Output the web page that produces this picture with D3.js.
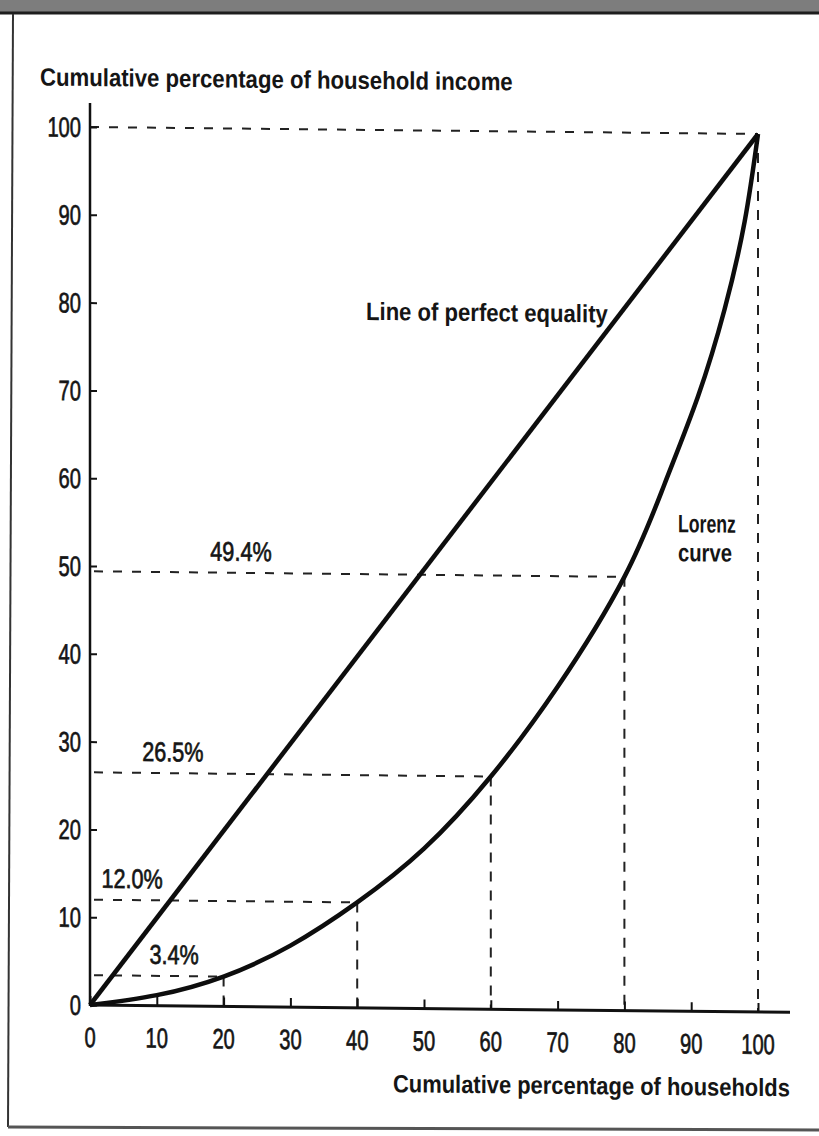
<!DOCTYPE html>
<html>
<head>
<meta charset="utf-8">
<script src="https://cdn.jsdelivr.net/npm/d3@7"></script>
<style>
body { margin: 0; background: #fff; }
text { font-family: "Liberation Sans", Arial, sans-serif; fill: #151515; }
.bold { font-weight: bold; }
.thin { stroke: #151515; stroke-width: 0.7px; }
</style>
</head>
<body>
<svg width="819" height="1136"></svg>
<script>
// values
var xTicks = [0, 10, 20, 30, 40, 50, 60, 70, 80, 90, 100];
var yTicks = [0, 10, 20, 30, 40, 50, 60, 70, 80, 90, 100];

// quintile points marked on the Lorenz curve
var quintiles = [20, 40, 60, 80, 100];
var quintileIncome = [3.4, 12.0, 26.5, 49.4, 100];
var quintileLabels = ["3.4%", "12.0%", "26.5%", "49.4%", ""];

// Lorenz curve
var lorenzX = [0, 10, 20, 30, 40, 50, 60, 70, 80, 86, 91, 95, 98, 100];
var lorenzY = [0, 1.2, 3.4, 7.0, 12.0, 18.2, 26.5, 36.8, 49.4, 60, 70, 80, 90, 100];

var equalityX = [0, 100];
var equalityY = [0, 100];

var svg = d3.select("svg");

// scan frame
svg.append("rect").attr("x", 0).attr("y", 0).attr("width", 819).attr("height", 12).attr("fill", "#7d7d7d");
svg.append("line").attr("x1", 0).attr("x2", 819).attr("y1", 13).attr("y2", 13)
   .attr("stroke", "#1e1e1e").attr("stroke-width", 3);
svg.append("line").attr("x1", 13).attr("x2", 8).attr("y1", 14).attr("y2", 1127)
   .attr("stroke", "#333").attr("stroke-width", 2);
svg.append("line").attr("x1", 8).attr("x2", 819).attr("y1", 1127).attr("y2", 1130)
   .attr("stroke", "#555").attr("stroke-width", 3);

var x = d3.scaleLinear().domain([0, 100]).range([90, 758]),
    y = d3.scaleLinear().domain([0, 100]).range([1005, 127]);

// the scan is slightly tilted: horizontals drop to the right
var g = svg.append("g").attr("transform", "translate(90,0) skewY(0.6) translate(-90,0)");

// narrow type: draw at (0,0) then squeeze horizontally
function squeeze(sel, sx) {
  sel.each(function() {
    var t = d3.select(this), px = +t.attr("x"), py = +t.attr("y");
    t.attr("x", 0).attr("y", 0)
     .attr("transform", "translate(" + px + "," + py + ") scale(" + sx + ",1)");
  });
}
function fitText(t, w) {
  var len = t.node().getComputedTextLength();
  squeeze(t, w / len);
}

var dash = "9,10";

// dashed guides
g.append("line").attr("x1", x(0)).attr("x2", x(100)).attr("y1", y(100)).attr("y2", y(100))
  .attr("stroke", "#222").attr("stroke-width", 2).attr("stroke-dasharray", dash);

g.selectAll(".hguide")
  .data(quintiles.slice(0, 4))
  .enter().append("line")
    .attr("class", "hguide")
    .attr("x1", x(0) + 4)
    .attr("x2", function(d) { return x(d); })
    .attr("y1", function(d, i) { return y(quintileIncome[i]); })
    .attr("y2", function(d, i) { return y(quintileIncome[i]); })
    .attr("stroke", "#222").attr("stroke-width", 2).attr("stroke-dasharray", dash);

g.selectAll(".vguide")
  .data(quintiles)
  .enter().append("line")
    .attr("class", "vguide")
    .attr("x1", function(d) { return x(d); })
    .attr("x2", function(d) { return x(d); })
    .attr("y1", function(d, i) { return y(quintileIncome[i]); })
    .attr("y2", y(0))
    .attr("stroke", "#222").attr("stroke-width", 2).attr("stroke-dasharray", "10,9");

// axes
var yAxis = d3.axisRight(y).tickValues(yTicks).tickSize(7).tickFormat("");
var ya = g.append("g").attr("transform", "translate(" + x(0) + ",0)").call(yAxis);
ya.select(".domain").remove();
ya.selectAll("line").attr("stroke", "#111").attr("stroke-width", 2);
g.append("line").attr("x1", x(0)).attr("x2", x(0)).attr("y1", 103).attr("y2", y(0) + 1)
  .attr("stroke", "#111").attr("stroke-width", 2.5);

var xAxis = d3.axisTop(x).tickValues(xTicks).tickSize(9).tickFormat("");
var xa = g.append("g").attr("transform", "translate(0," + y(0) + ")").call(xAxis);
xa.select(".domain").remove();
xa.selectAll("line").attr("stroke", "#111").attr("stroke-width", 2);
g.append("line").attr("x1", x(0)).attr("x2", 790).attr("y1", y(0)).attr("y2", y(0))
  .attr("stroke", "#111").attr("stroke-width", 3);

var ylab = g.selectAll(".ylab")
  .data(yTicks)
  .enter().append("text")
    .attr("class", "ylab thin")
    .attr("x", x(0) - 9)
    .attr("y", function(d) { return y(d) + 10; })
    .attr("text-anchor", "end")
    .attr("font-size", 28)
    .text(function(d) { return d; });
squeeze(ylab, 0.72);

var xlab = g.selectAll(".xlab")
  .data(xTicks)
  .enter().append("text")
    .attr("class", "xlab thin")
    .attr("x", function(d) { return x(d); })
    .attr("y", y(0) + 42)
    .attr("text-anchor", "middle")
    .attr("font-size", 28)
    .text(function(d) { return d; });
squeeze(xlab, 0.72);

// curves
var line = d3.line()
    .x(function(d) { return x(d[0]); })
    .y(function(d) { return y(d[1]); });

g.append("path")
  .attr("d", line(d3.zip(equalityX, equalityY)))
  .attr("fill", "none").attr("stroke", "#0d0d0d").attr("stroke-width", 4.5);

g.append("path")
  .attr("d", line.curve(d3.curveNatural)(d3.zip(lorenzX, lorenzY)))
  .attr("fill", "none").attr("stroke", "#0d0d0d").attr("stroke-width", 4.5);

// percentage annotations
var labelAt = [12.6, 6.3, 12.4, 22.6];
var pct = g.selectAll(".pct")
  .data(quintileLabels.slice(0, 4))
  .enter().append("text")
    .attr("class", "pct thin")
    .attr("x", function(d, i) { return x(labelAt[i]); })
    .attr("y", function(d, i) { return y(quintileIncome[i]) - 12; })
    .attr("text-anchor", "middle")
    .attr("font-size", 27)
    .text(function(d) { return d; });
squeeze(pct, 0.8);

// titles and curve names
function boldText(px, py, w, s) {
  var t = g.append("text").attr("class", "bold").attr("x", px).attr("y", py)
    .attr("font-size", 25).text(s);
  fitText(t, w);
}
boldText(40, 86, 473, "Cumulative percentage of household income");
boldText(393, 1089, 397, "Cumulative percentage of households");
boldText(366, 317, 242, "Line of perfect equality");
boldText(678, 526, 58, "Lorenz");
boldText(678, 555, 54, "curve");
</script>
</body>
</html>
